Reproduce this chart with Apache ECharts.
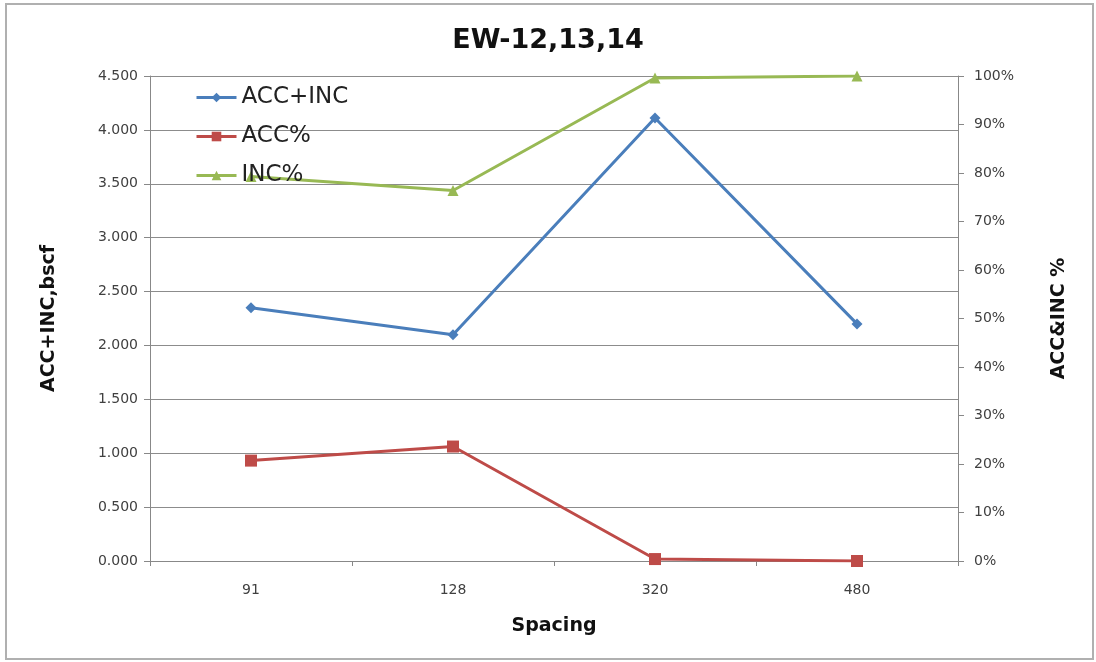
<!DOCTYPE html>
<html>
<head>
<meta charset="utf-8">
<script src="https://cdn.jsdelivr.net/npm/echarts@6/dist/echarts.min.js"></script>
<style>html,body{margin:0;padding:0;background:#fff;}#c{width:1096px;height:662px;}</style>
</head>
<body>
<div id="c"></div>
<script>
const categories = ['91', '128', '320', '480'];
const accInc = [2.35, 2.10, 4.11, 2.20];
const accPct = [20.7, 23.6, 0.4, 0.0];
const incPct = [79.3, 76.4, 99.6, 100.0];
const leftTicks = { min: 0, max: 4.5, interval: 0.5 };
const rightTicks = { min: 0, max: 100, interval: 10 };

const chart = echarts.init(document.getElementById('c'), null, { renderer: 'canvas' });
const labelFont = { fontFamily: 'DejaVu Sans', fontSize: 14, color: '#404040' };
const nameFont = { fontFamily: 'DejaVu Sans', fontWeight: 'bold', fontSize: 19, color: '#111' };
chart.setOption({
  animation: false,
  backgroundColor: '#fff',
  graphic: [{
    type: 'rect', shape: { x: 6, y: 4, width: 1087, height: 655 },
    style: { fill: 'none', stroke: '#b0b0b0', lineWidth: 2 }, silent: true
  }],
  title: {
    text: 'EW-12,13,14', left: 'center', top: 22,
    textStyle: { fontFamily: 'DejaVu Sans', fontWeight: 'bold', fontSize: 27, color: '#111' }
  },
  legend: {
    orient: 'vertical', left: 190, top: 81, itemWidth: 40, itemHeight: 12, itemGap: 16,
    lineStyle: { width: 3 },
    textStyle: { fontFamily: 'DejaVu Sans', fontSize: 23, color: '#222' },
    data: ['ACC+INC', 'ACC%', 'INC%']
  },
  grid: { left: 150, right: 138, top: 76, bottom: 101, containLabel: false },
  xAxis: {
    type: 'category', data: categories, boundaryGap: true,
    name: 'Spacing', nameLocation: 'middle', nameGap: 56, nameTextStyle: nameFont,
    axisLine: { lineStyle: { color: '#888', width: 1 } },
    axisTick: { show: true, alignWithLabel: false, length: 5, lineStyle: { color: '#888' } },
    axisLabel: Object.assign({ margin: 22 }, labelFont)
  },
  yAxis: [{
    type: 'value', min: leftTicks.min, max: leftTicks.max, interval: leftTicks.interval,
    position: 'left',
    name: 'ACC+INC,bscf', nameLocation: 'middle', nameGap: 91, nameRotate: 90, nameTextStyle: nameFont,
    axisLine: { show: true, lineStyle: { color: '#888' } },
    axisTick: { show: true, length: 6, lineStyle: { color: '#888' } },
    axisLabel: Object.assign({ margin: 12, formatter: v => v.toFixed(3) }, labelFont),
    splitLine: { show: true, lineStyle: { color: '#8c8c8c', width: 1 } }
  }, {
    type: 'value', min: rightTicks.min, max: rightTicks.max, interval: rightTicks.interval,
    position: 'right',
    name: 'ACC&INC %', nameLocation: 'middle', nameGap: 92, nameRotate: 90, nameTextStyle: nameFont,
    axisLine: { show: true, lineStyle: { color: '#888' } },
    axisTick: { show: true, length: 6, lineStyle: { color: '#888' } },
    axisLabel: Object.assign({ margin: 16, formatter: v => v + '%' }, labelFont),
    splitLine: { show: false }
  }],
  series: [{
    name: 'ACC+INC', type: 'line', yAxisIndex: 0, data: accInc,
    symbol: 'diamond', symbolSize: 11,
    lineStyle: { color: '#4A7EBB', width: 3 }, itemStyle: { color: '#4A7EBB' }
  }, {
    name: 'ACC%', type: 'line', yAxisIndex: 1, data: accPct,
    symbol: 'rect', symbolSize: 12,
    lineStyle: { color: '#BE4B48', width: 3 }, itemStyle: { color: '#BE4B48' }
  }, {
    name: 'INC%', type: 'line', yAxisIndex: 1, data: incPct,
    symbol: 'triangle', symbolSize: 11,
    lineStyle: { color: '#98B954', width: 3 }, itemStyle: { color: '#98B954' }
  }]
});
</script>
</body>
</html>
